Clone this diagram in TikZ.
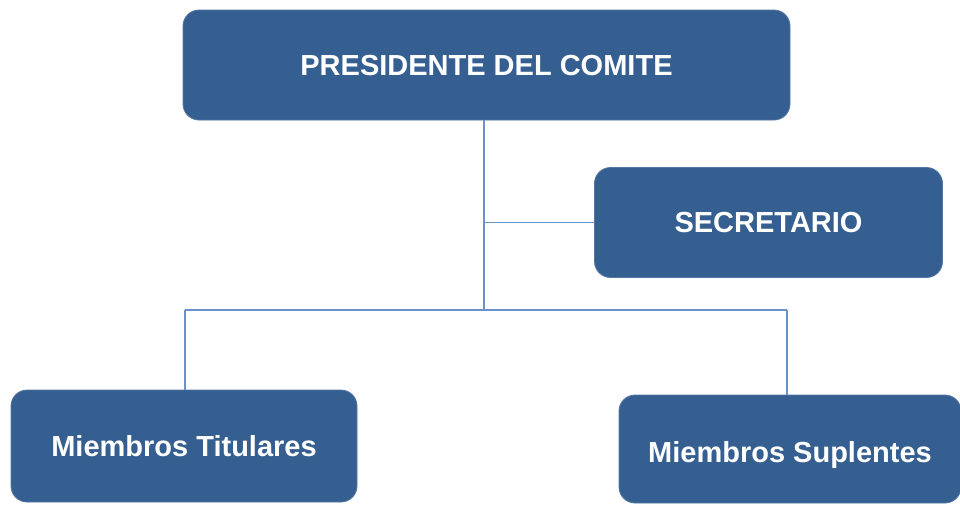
\documentclass[tikz,border=0pt]{standalone}
\usepackage{fontspec}
\setmainfont{Liberation Sans}
\definecolor{boxblue}{HTML}{365F91}
\definecolor{lineblue}{HTML}{6A92C8}
\begin{document}
\begin{tikzpicture}[x=1pt,y=-1pt,
  orgbox/.style={draw=boxblue!85!white, line width=0.8pt, fill=boxblue, rounded corners=16pt,
    text=white, font=\bfseries\fontsize{29}{35}\selectfont, inner sep=0pt,
    text height=20.8pt, text depth=0pt},
  link/.style={draw=lineblue, line width=1.6pt}]
\useasboundingbox (0,0) rectangle (960,504);
\node[orgbox, minimum width=607pt, minimum height=110pt] (pres) at (486.5,65) {PRESIDENTE DEL COMITE};
\node[orgbox, minimum width=348pt, minimum height=110pt] (sec) at (768.5,222.5) {SECRETARIO};
\node[orgbox, minimum width=346pt, minimum height=112pt] (tit) at (184,446) {Miembros Titulares};
\node[orgbox, minimum width=342pt, minimum height=108pt, text height=26.8pt] (sup) at (790,449) {Miembros Suplentes};
\coordinate (j) at (484,310);
\coordinate (ls) at (185,310);
\coordinate (rs) at (787,310);
\draw[link] (pres.south -| j) -- (j);
\draw[link] (sec.west -| j) -- (sec.west);
\draw[link] (ls) -- (rs);
\draw[link] (ls) -- (ls |- tit.north);
\draw[link] (rs) -- (rs |- sup.north);
\end{tikzpicture}
\end{document}
